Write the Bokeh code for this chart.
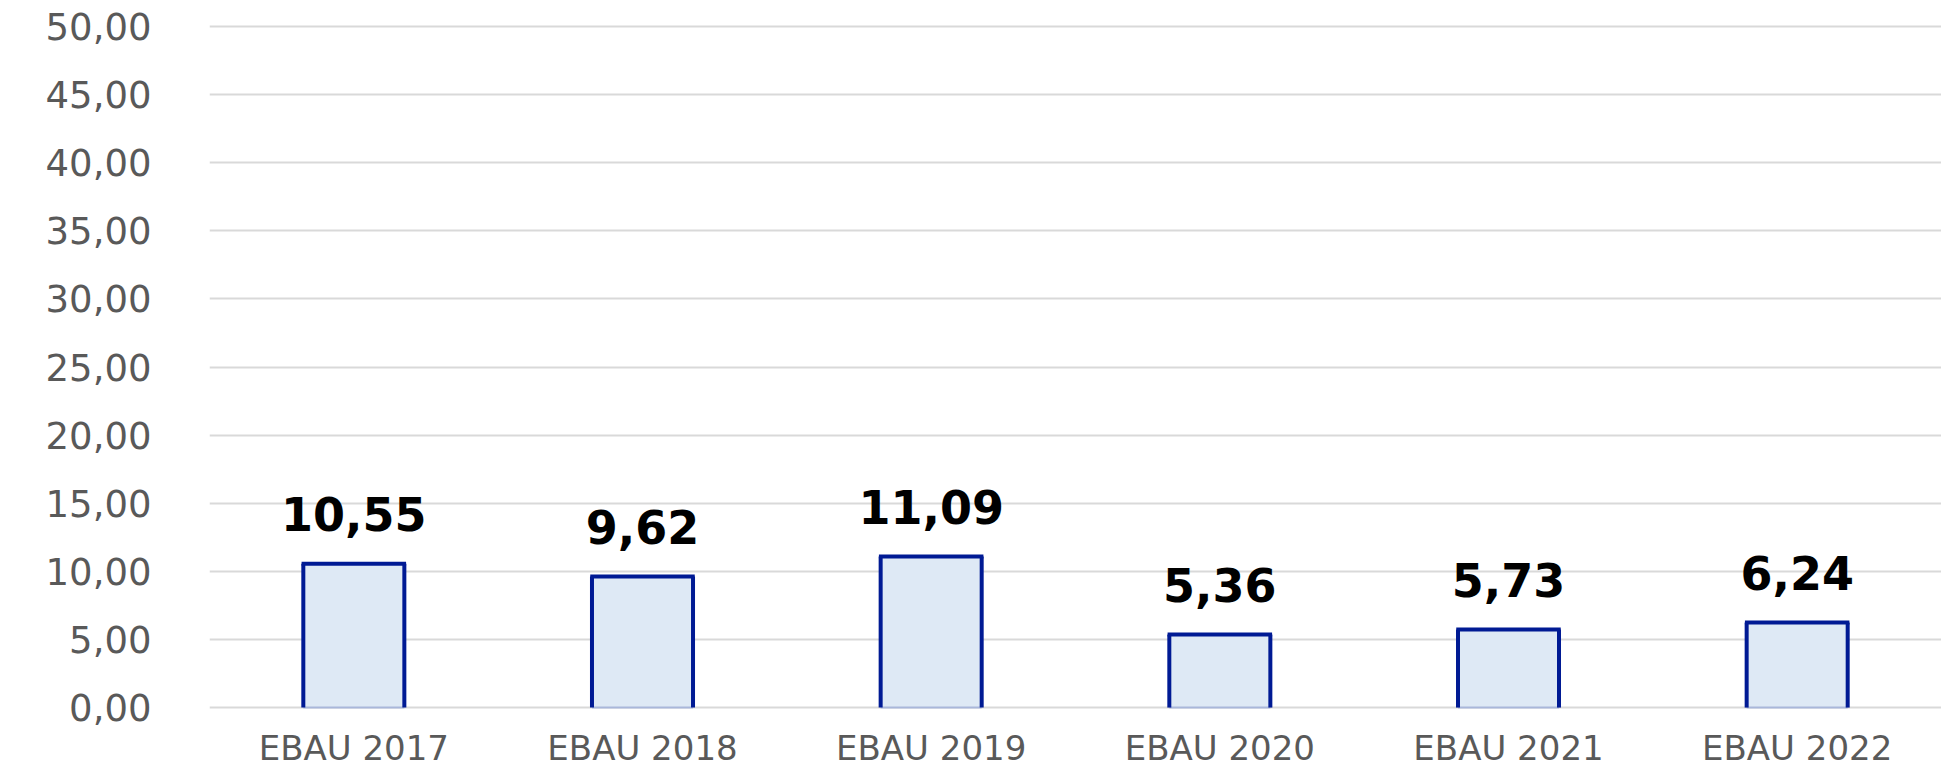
from bokeh.plotting import figure
from bokeh.models import ColumnDataSource, FactorRange, Range1d, FixedTicker, CustomJSTickFormatter
from bokeh.transform import dodge
from bokeh.core.properties import value
from bokeh.embed import file_html
from bokeh.resources import INLINE

categories = ["EBAU 2017", "EBAU 2018", "EBAU 2019", "EBAU 2020", "EBAU 2021", "EBAU 2022"]
values = [10.55, 9.62, 11.09, 5.36, 5.73, 6.24]
labels = ["10,55", "9,62", "11,09", "5,36", "5,73", "6,24"]
y_ticks = [0, 5, 10, 15, 20, 25, 30, 35, 40, 45, 50]

BAR_W = 0.35
src = ColumnDataSource(dict(cat=categories, val=values, lab=labels, zero=[0] * len(values)))

# frame extends below zero so that the category names can be drawn inside it
p = figure(
    x_range=FactorRange(*categories, range_padding=0),
    y_range=Range1d(-4.4, 50.15),
    width=1941, height=767,
    output_backend="svg", toolbar_location=None,
    min_border_left=209, min_border_right=0, min_border_top=24, min_border_bottom=0,
)
p.outline_line_color = None
p.background_fill_color = "white"
p.border_fill_color = "white"

# bars: fill
p.vbar(x="cat", top="val", width=BAR_W, source=src, fill_color="#DEE9F5", line_color=None)
# lighter bottom edge
p.segment(x0=dodge("cat", -BAR_W / 2, range=p.x_range), x1=dodge("cat", BAR_W / 2, range=p.x_range),
          y0="zero", y1="zero", source=src, line_color="#A9B7DA", line_width=2)
# dark outline on left, right, top
p.segment(x0=dodge("cat", -BAR_W / 2, range=p.x_range), x1=dodge("cat", -BAR_W / 2, range=p.x_range),
          y0="zero", y1="val", source=src, line_color="#001A94", line_width=4)
p.segment(x0=dodge("cat", BAR_W / 2, range=p.x_range), x1=dodge("cat", BAR_W / 2, range=p.x_range),
          y0="zero", y1="val", source=src, line_color="#001A94", line_width=4)
p.segment(x0=dodge("cat", -BAR_W / 2 - 0.006, range=p.x_range), x1=dodge("cat", BAR_W / 2 + 0.006, range=p.x_range),
          y0="val", y1="val", source=src, line_color="#001A94", line_width=4)

# value labels
p.text(x="cat", y="val", text="lab", source=src, text_align="center", text_baseline="bottom",
       y_offset=-33, text_font=value("DejaVu Sans"), text_font_style="bold",
       text_font_size="46px", text_color="black")

# category labels
p.text(x="cat", y="zero", text="cat", source=src, text_align="center", text_baseline="top",
       y_offset=20, text_font=value("DejaVu Sans"),
       text_font_size="34px", text_color="#595959")

# axes
p.yaxis.ticker = FixedTicker(ticks=y_ticks)
p.yaxis.formatter = CustomJSTickFormatter(code="return tick.toFixed(2).replace('.', ',');")
p.yaxis.axis_line_color = None
p.yaxis.major_tick_line_color = None
p.yaxis.minor_tick_line_color = None
p.yaxis.major_label_text_font = "DejaVu Sans"
p.yaxis.major_label_text_font_size = "37px"
p.yaxis.major_label_text_color = "#595959"
p.yaxis.major_label_standoff = 52

p.xaxis.visible = False

p.xgrid.grid_line_color = None
p.ygrid.grid_line_color = "#D9D9D9"
p.ygrid.grid_line_width = 2

open("out.html", "w").write(file_html(p, INLINE))
